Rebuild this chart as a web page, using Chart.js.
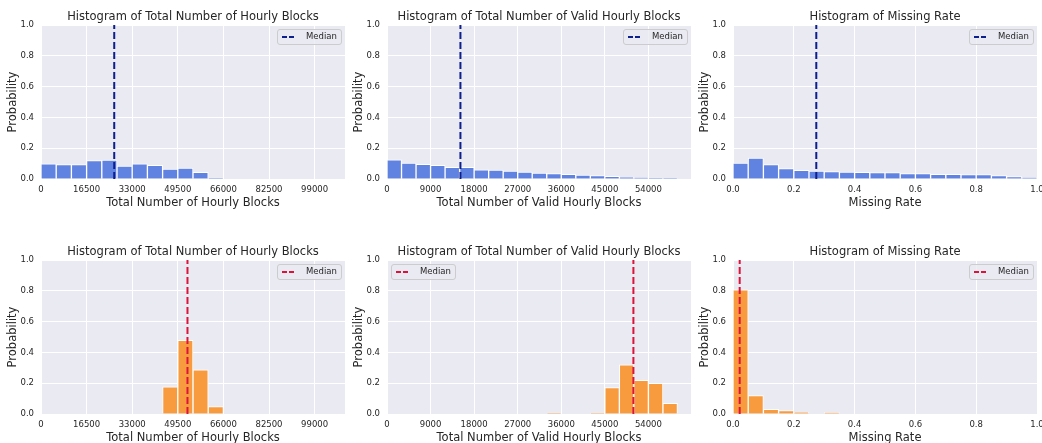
<!DOCTYPE html>
<html>
<head>
<meta charset="utf-8">
<script src="https://cdn.jsdelivr.net/npm/chart.js@4.4.1/dist/chart.umd.min.js"></script>
<style>
  html, body { margin: 0; padding: 0; background: #fff; overflow: hidden; }
  body { width: 1042px; height: 443px; position: relative; }
  .panel { position: absolute; }
  .panel canvas { display: block; }
</style>
</head>
<body>
<div class="panel" style="left:0px;top:0px"><canvas id="g1" width="360" height="210"></canvas></div>
<div class="panel" style="left:346px;top:0px"><canvas id="g2" width="360" height="210"></canvas></div>
<div class="panel" style="left:692px;top:0px"><canvas id="g3" width="360" height="210"></canvas></div>
<div class="panel" style="left:0px;top:235px"><canvas id="g4" width="360" height="210"></canvas></div>
<div class="panel" style="left:346px;top:235px"><canvas id="g5" width="360" height="210"></canvas></div>
<div class="panel" style="left:692px;top:235px"><canvas id="g6" width="360" height="210"></canvas></div>
<script>
//datos (probabilidad por intervalo)
const totalBlocksBinWidth = 5500;
const totalBlocksMax = 110000;
const totalBlocksTicks = [0, 16500, 33000, 49500, 66000, 82500, 99000];
const totalBlocksTop = [0.099, 0.093, 0.093, 0.119, 0.123, 0.084, 0.099, 0.089, 0.065, 0.071, 0.043, 0.006, 0, 0, 0, 0, 0, 0, 0, 0];
const totalBlocksBottom = [0, 0, 0, 0, 0, 0, 0, 0, 0.177, 0.479, 0.287, 0.048, 0, 0, 0, 0, 0, 0, 0, 0];

const validBlocksBinWidth = 3000;
const validBlocksMax = 62800;
const validBlocksTicks = [0, 9000, 18000, 27000, 36000, 45000, 54000];
const validBlocksTop = [0.125, 0.104, 0.095, 0.089, 0.076, 0.076, 0.060, 0.058, 0.052, 0.045, 0.039, 0.035, 0.030, 0.026, 0.022, 0.017, 0.013, 0.009, 0.006, 0.004];
const validBlocksBottom = [0, 0, 0, 0, 0, 0, 0, 0, 0, 0, 0, 0.006, 0, 0, 0.005, 0.171, 0.320, 0.218, 0.199, 0.069];

const missingBinWidth = 0.05;
const missingMax = 1;
const missingTicks = [0, 0.2, 0.4, 0.6, 0.8, 1.0];
const missingTop = [0.104, 0.136, 0.093, 0.067, 0.056, 0.052, 0.048, 0.045, 0.043, 0.041, 0.041, 0.035, 0.035, 0.030, 0.030, 0.028, 0.028, 0.022, 0.015, 0.009];
const missingBottom = [0.806, 0.119, 0.030, 0.022, 0.011, 0, 0.009, 0, 0, 0, 0, 0, 0, 0, 0, 0, 0, 0, 0, 0];

const probTicks = [0, 0.2, 0.4, 0.6, 0.8, 1.0];
const mediansTop = [26500, 15170, 0.274];
const mediansBottom = [53000, 50900, 0.022];

Chart.defaults.font.family = "'DejaVu Sans', sans-serif";
Chart.defaults.color = '#262626';
Chart.defaults.animation = false;

//fondo gris del área de la gráfica (estilo seaborn)
const fondo = {
    id: 'fondo',
    beforeDraw(chart) {
        const a = chart.chartArea;
        const ctx = chart.ctx;
        ctx.save();
        ctx.fillStyle = '#eaeaf2';
        ctx.fillRect(a.left, a.top, a.right - a.left, a.bottom - a.top);
        ctx.restore();
    }
};

//leyenda dentro del área, con caja redondeada
const leyenda = {
    id: 'leyenda',
    afterDraw(chart, args, opts) {
        const a = chart.chartArea;
        const ctx = chart.ctx;
        const w = 64, h = 15;
        const x = opts.side === 'left' ? a.left + 4 : a.right - 4 - w;
        const y = a.top + 4;
        ctx.save();
        ctx.beginPath();
        ctx.roundRect(x + 0.5, y + 0.5, w, h, 2.5);
        ctx.fillStyle = 'rgba(234,234,242,0.8)';
        ctx.fill();
        ctx.strokeStyle = '#cccccc';
        ctx.lineWidth = 1;
        ctx.stroke();
        ctx.beginPath();
        ctx.setLineDash([5, 2]);
        ctx.moveTo(x + 5, y + 8);
        ctx.lineTo(x + 17, y + 8);
        ctx.strokeStyle = opts.color;
        ctx.lineWidth = 2;
        ctx.stroke();
        ctx.setLineDash([]);
        ctx.fillStyle = '#262626';
        ctx.font = "8.5px 'DejaVu Sans', sans-serif";
        ctx.textBaseline = 'middle';
        ctx.fillText(opts.label, x + 29, y + 8);
        ctx.restore();
    }
};

function crearHistograma(id, cfg) {
    const puntos = cfg.values.map((v, i) => ({ x: i * cfg.binWidth + cfg.binWidth / 2, y: v }));
    const fmt = cfg.decimals ? (v => v.toFixed(1)) : (v => String(v));

    new Chart(document.getElementById(id), {
        type: 'bar',
        data: {
            datasets: [
                {
                    type: 'line',
                    label: 'Median',
                    data: [{ x: cfg.median, y: 0 }, { x: cfg.median, y: 1 }],
                    borderColor: cfg.lineColor,
                    borderWidth: 2,
                    borderDash: [7, 3],
                    pointRadius: 0,
                    fill: false,
                    order: 0
                },
                {
                    label: 'Probability',
                    data: puntos,
                    backgroundColor: cfg.barColor,
                    borderColor: '#ffffff',
                    borderWidth: 1,
                    barPercentage: 1,
                    categoryPercentage: 1,
                    order: 1
                }
            ]
        },
        options: {
            responsive: false,
            layout: { padding: { left: 0, right: 15, top: 0, bottom: 0 } },
            scales: {
                x: {
                    type: 'linear',
                    min: 0,
                    max: cfg.max,
                    offset: false,
                    afterBuildTicks: s => { s.ticks = cfg.ticks.map(v => ({ value: v })); },
                    afterFit: s => { s.height = 31; },
                    grid: { color: '#ffffff', lineWidth: 1, drawTicks: false, offset: false },
                    border: { display: false },
                    ticks: { font: { size: 8.5 }, padding: 6, autoSkip: false, maxRotation: 0, callback: fmt },
                    title: { display: true, text: cfg.xTitle, font: { size: 11.5 }, padding: { top: 0, bottom: 0 } }
                },
                y: {
                    min: 0,
                    max: 1,
                    afterBuildTicks: s => { s.ticks = probTicks.map(v => ({ value: v })); },
                    afterFit: s => { s.width = 41; },
                    grid: { color: '#ffffff', lineWidth: 1, drawTicks: false },
                    border: { display: false },
                    ticks: { font: { size: 8.5 }, padding: 7, callback: v => v.toFixed(1) },
                    title: { display: true, text: 'Probability', font: { size: 11.5 }, padding: { top: 6, bottom: 0 } }
                }
            },
            plugins: {
                legend: { display: false },
                tooltip: { enabled: false },
                title: {
                    display: true,
                    text: cfg.title,
                    fullSize: false,
                    font: { size: 11.5, weight: 'normal' },
                    color: '#262626',
                    padding: { top: 10, bottom: 1.2 }
                },
                leyenda: { side: cfg.legendSide, color: cfg.lineColor, label: 'Median' }
            }
        },
        plugins: [fondo, leyenda]
    });
}

const azul = '#6082e0', naranja = '#f89b3f';
const azulMediana = '#0d1f8f', rojoMediana = '#dc143c';

const t1 = 'Histogram of Total Number of Hourly Blocks';
const t2 = 'Histogram of Total Number of Valid Hourly Blocks';
const t3 = 'Histogram of Missing Rate';

crearHistograma('g1', { title: t1, xTitle: 'Total Number of Hourly Blocks', values: totalBlocksTop, binWidth: totalBlocksBinWidth, max: totalBlocksMax, ticks: totalBlocksTicks, median: mediansTop[0], barColor: azul, lineColor: azulMediana, legendSide: 'right' });
crearHistograma('g2', { title: t2, xTitle: 'Total Number of Valid Hourly Blocks', values: validBlocksTop, binWidth: validBlocksBinWidth, max: validBlocksMax, ticks: validBlocksTicks, median: mediansTop[1], barColor: azul, lineColor: azulMediana, legendSide: 'right' });
crearHistograma('g3', { title: t3, xTitle: 'Missing Rate', values: missingTop, binWidth: missingBinWidth, max: missingMax, ticks: missingTicks, median: mediansTop[2], barColor: azul, lineColor: azulMediana, legendSide: 'right', decimals: true });
crearHistograma('g4', { title: t1, xTitle: 'Total Number of Hourly Blocks', values: totalBlocksBottom, binWidth: totalBlocksBinWidth, max: totalBlocksMax, ticks: totalBlocksTicks, median: mediansBottom[0], barColor: naranja, lineColor: rojoMediana, legendSide: 'right' });
crearHistograma('g5', { title: t2, xTitle: 'Total Number of Valid Hourly Blocks', values: validBlocksBottom, binWidth: validBlocksBinWidth, max: validBlocksMax, ticks: validBlocksTicks, median: mediansBottom[1], barColor: naranja, lineColor: rojoMediana, legendSide: 'left' });
crearHistograma('g6', { title: t3, xTitle: 'Missing Rate', values: missingBottom, binWidth: missingBinWidth, max: missingMax, ticks: missingTicks, median: mediansBottom[2], barColor: naranja, lineColor: rojoMediana, legendSide: 'right', decimals: true });
</script>
</body>
</html>
